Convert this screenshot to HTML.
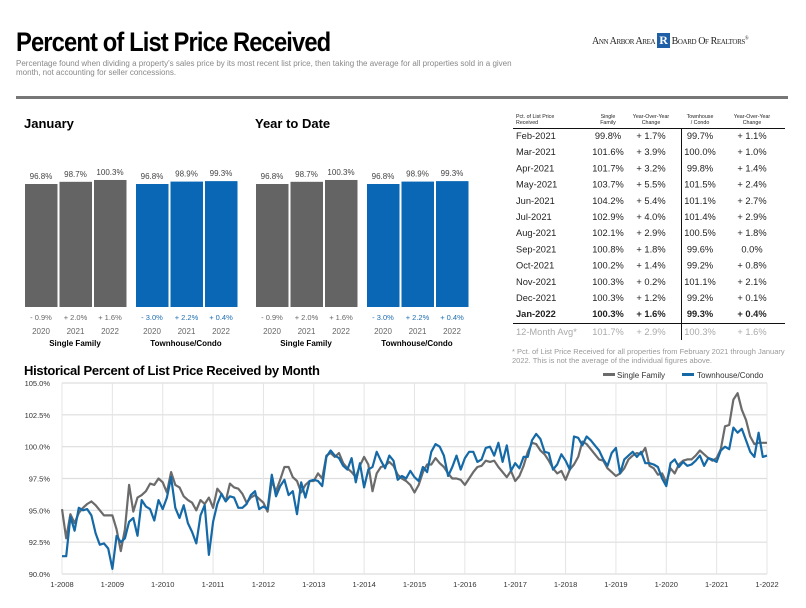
<!DOCTYPE html>
<html><head><meta charset="utf-8"><style>
body{margin:0;width:806px;height:608px;background:#fff;font-family:"Liberation Sans",Arial,sans-serif;position:relative;overflow:hidden}
.a{position:absolute;white-space:nowrap}
</style></head><body>
<div class="a" style="left:16px;top:27px;font-size:27px;font-weight:bold;letter-spacing:-1px;transform:scaleX(0.88);transform-origin:left">Percent of List Price Received</div>
<div class="a" style="left:16px;top:59px;font-size:8px;color:#888;line-height:9px;white-space:normal;width:520px">Percentage found when dividing a property's sales price by its most recent list price, then taking the average for all properties sold in a given month, not accounting for seller concessions.</div>
<div class="a" style="left:592px;top:33px;font-family:'Liberation Serif',serif;font-size:10px;color:#222;letter-spacing:-0.4px;font-variant:small-caps">Ann Arbor Area <span style="display:inline-block;background:#1f5fa8;color:#fff;font-weight:bold;padding:0 2px;font-size:12px;font-variant:normal">R</span> Board Of Realtors<sup style="font-size:5px">®</sup></div>
<div class="a" style="left:16px;top:96px;width:772px;height:3px;background:#777"></div>
<div class="a" style="left:24px;top:116px;font-size:13px;font-weight:bold">January</div>
<div class="a" style="left:255px;top:116px;font-size:13px;font-weight:bold">Year to Date</div>
<svg class="a" style="left:0;top:0" width="806" height="608" id="bars"></svg>
<svg class="a" style="left:0;top:0" width="806" height="608" id="tbl"></svg>
<div class="a" style="left:512px;top:347px;font-size:7.5px;color:#999;line-height:9px;white-space:normal;width:280px">* Pct. of List Price Received for all properties from February 2021 through January 2022. This is not the average of the individual figures above.</div>
<div class="a" style="left:24px;top:363px;font-size:13px;font-weight:bold;letter-spacing:-0.3px">Historical Percent of List Price Received by Month</div>
<svg class="a" style="left:0;top:0" width="806" height="608" id="line"></svg>
<script>
const NS="http://www.w3.org/2000/svg";
function mk(p,t,at,txt){const e=document.createElementNS(NS,t);for(const k in at)e.setAttribute(k,at[k]);if(txt!=null)e.textContent=txt;p.appendChild(e);return e;}
// ---- bar data
const barYears=["2020","2021","2022"];
const janSF=[96.8,98.7,100.3];
const janTH=[96.8,98.9,99.3];
const janSFchg=["- 0.9%","+ 2.0%","+ 1.6%"];
const janTHchg=["- 3.0%","+ 2.2%","+ 0.4%"];
const ytdSF=[96.8,98.7,100.3];
const ytdTH=[96.8,98.9,99.3];
const ytdSFchg=["- 0.9%","+ 2.0%","+ 1.6%"];
const ytdTHchg=["- 3.0%","+ 2.2%","+ 0.4%"];
const bs=document.getElementById('bars');
const base=307;
function bh(v){return 123+(v-96.8)*1.15;}
function group(x0,vals,chg,col,chgCol,label,key){
  vals.forEach((v,i)=>{
    const x=x0+i*34.5,h=bh(v);
    const r=mk(bs,'rect',{x:x,y:base-h,width:32.5,height:h,fill:col});
    
    
    mk(bs,'text',{x:x+16,y:base-h-5,'font-size':8,'text-anchor':'middle',fill:'#444'},v.toFixed(1)+'%');
    mk(bs,'text',{x:x+16,y:320,'font-size':7.5,'text-anchor':'middle',fill:chgCol},chg[i]);
    mk(bs,'text',{x:x+16,y:334,'font-size':8,'text-anchor':'middle',fill:'#666'},barYears[i]);
  });
  mk(bs,'text',{x:x0+50,y:346,'font-size':8,'font-weight':'bold','text-anchor':'middle'},label);
}
group(25,janSF,janSFchg,'#646464','#666','Single Family','jan-sf');
group(136,janTH,janTHchg,'#0a67b5','#1c6db0','Townhouse/Condo','jan-th');
group(256,ytdSF,ytdSFchg,'#646464','#666','Single Family','ytd-sf');
group(367,ytdTH,ytdTHchg,'#0a67b5','#1c6db0','Townhouse/Condo','ytd-th');
// ---- table
const months=["Feb-2021","Mar-2021","Apr-2021","May-2021","Jun-2021","Jul-2021","Aug-2021","Sep-2021","Oct-2021","Nov-2021","Dec-2021","Jan-2022"];
const tSF=["99.8%","101.6%","101.7%","103.7%","104.2%","102.9%","102.1%","100.8%","100.2%","100.3%","100.3%","100.3%"];
const tSFc=["+ 1.7%","+ 3.9%","+ 3.2%","+ 5.5%","+ 5.4%","+ 4.0%","+ 2.9%","+ 1.8%","+ 1.4%","+ 0.2%","+ 1.2%","+ 1.6%"];
const tTH=["99.7%","100.0%","99.8%","101.5%","101.1%","101.4%","100.5%","99.6%","99.2%","101.1%","99.2%","99.3%"];
const tTHc=["+ 1.1%","+ 1.0%","+ 1.4%","+ 2.4%","+ 2.7%","+ 2.9%","+ 1.8%","0.0%","+ 0.8%","+ 2.1%","+ 0.1%","+ 0.4%"];
const avg=["12-Month Avg*","101.7%","+ 2.9%","100.3%","+ 1.6%"];
const tb=document.getElementById('tbl');
const cx=[608,651,700,752];
[["Pct. of List Price","Received"],["Single","Family"],["Year-Over-Year","Change"],["Townhouse","/ Condo"],["Year-Over-Year","Change"]].forEach((h,i)=>{
  const x=i==0?516:cx[i-1];
  h.forEach((l,j)=>mk(tb,'text',{x:x,y:118+j*6,'font-size':5.3,'text-anchor':i==0?'start':'middle',fill:'#222'},l));
});
mk(tb,'line',{x1:513,x2:785,y1:128.5,y2:128.5,stroke:'#111','stroke-width':1});
mk(tb,'line',{x1:513,x2:785,y1:323.5,y2:323.5,stroke:'#111','stroke-width':1});
mk(tb,'line',{x1:681.5,x2:681.5,y1:129,y2:340,stroke:'#111','stroke-width':1});
months.forEach((m,i)=>{
  const y=139+i*16.2, b=i==11?'bold':'normal';
  const row=[m,tSF[i],tSFc[i],tTH[i],tTHc[i]];
  row.forEach((t,j)=>mk(tb,'text',{x:j==0?516:cx[j-1],y:y,'font-size':9.3,'font-weight':b,'text-anchor':j==0?'start':'middle',fill:'#222'},t));
});
avg.forEach((t,j)=>mk(tb,'text',{x:j==0?516:cx[j-1],y:335,'font-size':9.3,'text-anchor':j==0?'start':'middle',fill:'#aaa'},t));
// ---- line chart
const yTicks=[90,92.5,95,97.5,100,102.5,105];
const xYears=[2008,2009,2010,2011,2012,2013,2014,2015,2016,2017,2018,2019,2020,2021,2022];
const sfSeries=[
95.1,92.8,94.7,94.0,94.8,95.2,95.5,95.7,95.4,95.0,94.6,94.6,
94.6,93.5,91.8,93.5,97.0,94.9,96.0,96.2,96.5,97.1,97.0,97.5,
97.2,96.4,98.0,97.0,96.8,96.1,95.8,95.6,95.0,95.8,95.5,96.0,
95.2,96.7,96.3,95.7,97.1,96.8,96.7,96.3,95.6,96.0,96.2,95.9,
95.6,94.9,97.3,96.5,97.4,98.4,98.4,97.6,97.3,96.4,97.0,97.3,
97.3,97.9,97.5,99.3,99.5,99.2,99.5,98.7,98.3,98.0,97.6,98.5,
99.2,98.6,96.5,97.9,98.4,98.5,98.8,98.5,97.8,97.5,97.3,97.0,
96.4,97.0,98.0,98.6,98.6,99.1,98.7,98.4,97.9,97.5,97.5,97.4,
97.0,97.5,98.0,98.4,98.5,98.9,98.8,98.9,98.4,98.0,97.6,98.1,
97.3,97.7,98.5,99.6,100.3,100.2,99.7,99.4,98.9,98.3,97.9,98.1,
97.4,98.2,98.6,99.2,100.4,100.2,99.8,99.4,99.0,98.9,98.3,98.0,
97.7,97.9,98.3,99.0,99.3,99.5,99.4,99.9,98.5,98.3,97.8,97.9,
97.2,98.3,97.9,98.6,98.9,99.0,99.0,99.3,99.7,99.4,99.1,98.9,
99.1,99.8,101.6,101.7,103.7,104.2,102.9,102.1,100.8,100.2,100.3,100.3,
100.3];
const thSeries=[
91.4,91.4,94.5,93.4,95.2,95.0,95.1,94.6,93.2,92.3,92.4,92.0,
90.4,93.0,92.5,92.8,94.1,94.4,93.0,95.8,95.3,95.1,94.2,95.8,
95.1,96.0,97.6,95.2,94.4,95.4,94.0,93.3,92.4,94.6,95.4,91.5,
94.1,95.5,96.3,95.7,96.1,96.0,95.2,95.2,95.5,96.2,96.5,95.1,
95.3,95.1,97.8,96.1,96.9,97.4,96.2,96.5,94.7,97.2,96.0,97.3,
97.4,97.3,96.9,99.2,99.7,99.3,99.1,98.5,98.2,99.1,97.2,98.7,
96.8,98.2,98.4,99.6,98.9,98.3,99.3,98.9,97.4,97.7,97.5,98.1,
97.6,97.3,98.4,98.0,99.6,100.2,100.0,99.3,97.7,98.4,99.3,98.2,
99.1,99.6,99.6,98.8,99.0,99.9,100.0,99.3,100.3,98.8,100.1,98.1,
98.7,98.3,99.2,99.2,100.5,101.0,100.6,99.6,99.5,98.2,98.6,99.4,
98.9,98.2,100.8,100.7,100.1,100.8,100.5,100.1,99.7,99.0,98.5,99.5,
99.9,97.9,99.0,99.3,99.6,99.2,99.6,98.7,98.7,98.6,98.4,97.5,
96.9,98.7,99.0,98.4,98.8,98.5,98.6,98.9,99.3,98.5,99.1,99.0,
98.8,99.7,100.0,99.8,101.5,101.1,101.4,100.5,99.6,99.2,101.1,99.2,
99.3];
const L=62,R=767,T=383,B=574;
const xs=i=>L+(R-L)*i/168;
const ys=v=>B-(v-90)/15*(B-T);
const lc=document.getElementById('line');
yTicks.forEach(v=>{
  mk(lc,'line',{x1:L,x2:R,y1:ys(v),y2:ys(v),stroke:'#ddd','stroke-width':1.2});
  mk(lc,'text',{x:L-12,y:ys(v)+3,'font-size':7.5,'text-anchor':'end',fill:'#333'},v.toFixed(1)+'%');
});
xYears.forEach((yr,k)=>{
  const x=xs(k*12);
  mk(lc,'line',{x1:x,x2:x,y1:T,y2:B,stroke:'#e4e4e4','stroke-width':1});
  mk(lc,'text',{x:x,y:B+13,'font-size':7.5,'text-anchor':'middle',fill:'#333'},'1-'+yr);
});
function path(arr,col,nm){
  const d=arr.map((v,i)=>(i?'L':'M')+xs(i).toFixed(1)+' '+ys(v).toFixed(1)).join('');
  const p=mk(lc,'path',{d:d,fill:'none',stroke:col,'stroke-width':2.2,'stroke-linejoin':'round'});
  
  
}
path(sfSeries,'#6b6b6b','single-family-line');
path(thSeries,'#1469a6','townhouse-condo-line');
const lg1=mk(lc,'g',{});


mk(lg1,'rect',{x:603,y:373,width:12,height:3,fill:'#6b6b6b'});
mk(lg1,'text',{x:617,y:378,'font-size':8,fill:'#333'},'Single Family');
const lg2=mk(lc,'g',{});


mk(lg2,'rect',{x:682,y:373,width:12,height:3,fill:'#1469a6'});
mk(lg2,'text',{x:697,y:378,'font-size':8,fill:'#333'},'Townhouse/Condo');
</script>
</body></html>
